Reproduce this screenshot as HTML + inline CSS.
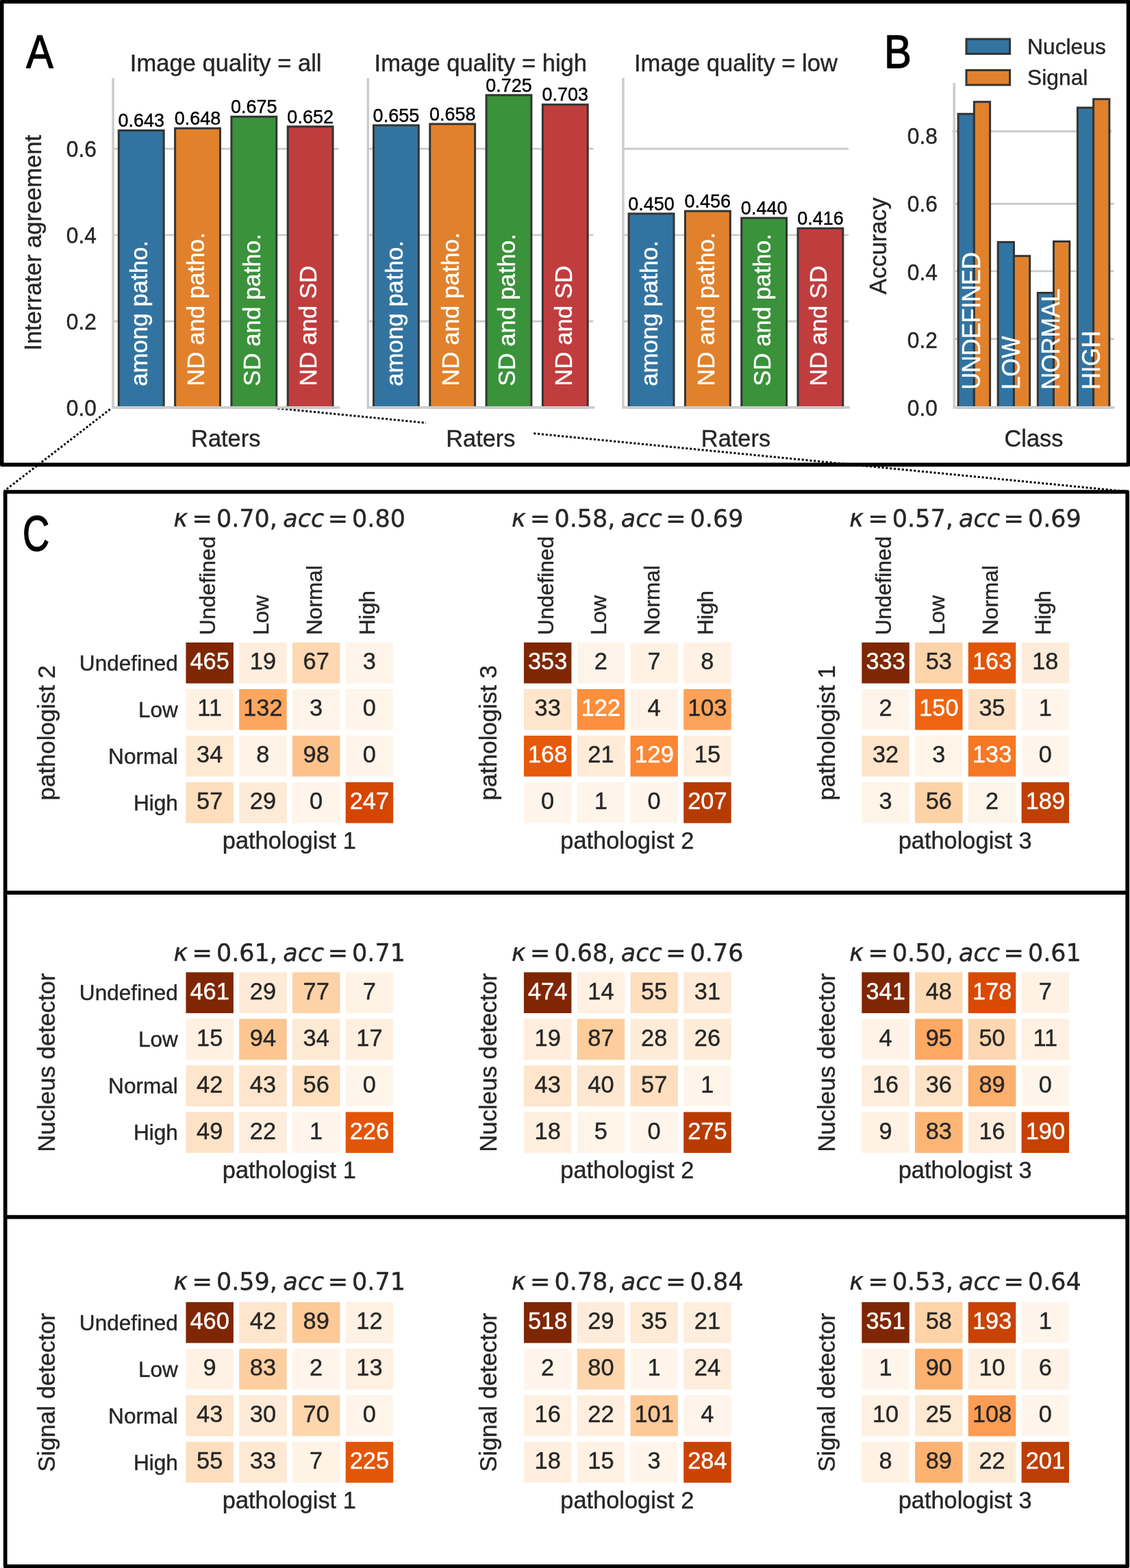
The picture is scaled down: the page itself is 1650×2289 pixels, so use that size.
<!DOCTYPE html>
<html lang="en">
<head>
<meta charset="utf-8">
<title>Interrater agreement figure</title>
<style>
html,body{margin:0;padding:0;background:#fff;}
body{width:1650px;height:2289px;overflow:hidden;}
svg{display:block;}
text{white-space:pre;}
</style>
</head>
<body>
<svg width="1650" height="2289" viewBox="0 0 1650 2289" font-family="'Liberation Sans', sans-serif" role="img" aria-label="Interrater agreement, class accuracy and confusion matrices">
<rect width="1650" height="2289" fill="#fff"/>
<g fill="none" stroke="#000" stroke-width="3" stroke-dasharray="3 2.87">
<path d="M160.8 597.4L6.5 716.5"/>
<path d="M405.4 596.1L1646.1 717.6"/>
</g>
<rect x="622" y="606" width="157" height="62" fill="#fff"/>
<line x1="165.1" x2="494.3" y1="468.97" y2="468.97" stroke="#cccccc" stroke-width="2.9"/>
<line x1="165.1" x2="494.3" y1="343.09" y2="343.09" stroke="#cccccc" stroke-width="2.9"/>
<line x1="165.1" x2="494.3" y1="217.21" y2="217.21" stroke="#cccccc" stroke-width="2.9"/>
<rect x="173.33" y="190.45" width="65.84" height="404.4" fill="#3274a1" stroke="#343434" stroke-width="3.0"/>
<text transform="translate(206.25 185.25) scale(1 1.035)" font-size="27" text-anchor="middle" fill="#000" stroke="#000" stroke-width="0.4">0.643</text>
<text transform="translate(215.45 563.8) rotate(-90)" font-size="34.8" text-anchor="start" fill="#fff" stroke="#fff" stroke-width="0.4">among patho.</text>
<rect x="255.63" y="187.3" width="65.84" height="407.55" fill="#e1812c" stroke="#343434" stroke-width="3.0"/>
<text transform="translate(288.55 182.1) scale(1 1.035)" font-size="27" text-anchor="middle" fill="#000" stroke="#000" stroke-width="0.4">0.648</text>
<text transform="translate(297.75 563.8) rotate(-90)" font-size="34.8" text-anchor="start" fill="#fff" stroke="#fff" stroke-width="0.4">ND and patho.</text>
<rect x="337.93" y="170.31" width="65.84" height="424.55" fill="#3a923a" stroke="#343434" stroke-width="3.0"/>
<text transform="translate(370.85 165.11) scale(1 1.035)" font-size="27" text-anchor="middle" fill="#000" stroke="#000" stroke-width="0.4">0.675</text>
<text transform="translate(380.05 563.8) rotate(-90)" font-size="34.8" text-anchor="start" fill="#fff" stroke="#fff" stroke-width="0.4">SD and patho.</text>
<rect x="420.23" y="184.78" width="65.84" height="410.07" fill="#c03d3e" stroke="#343434" stroke-width="3.0"/>
<text transform="translate(453.15 179.58) scale(1 1.035)" font-size="27" text-anchor="middle" fill="#000" stroke="#000" stroke-width="0.4">0.652</text>
<text transform="translate(462.35 563.8) rotate(-90)" font-size="34.8" text-anchor="start" fill="#fff" stroke="#fff" stroke-width="0.4">ND and SD</text>
<path d="M165.1 113.8V594.85H496.1" fill="none" stroke="#cccccc" stroke-width="3.6" stroke-linejoin="miter"/>
<text x="329.7" y="104.3" font-size="34.6" text-anchor="middle" fill="#262626" stroke="#262626" stroke-width="0.4">Image quality = all</text>
<text x="329.7" y="652" font-size="34.4" text-anchor="middle" fill="#262626" stroke="#262626" stroke-width="0.4">Raters</text>
<text transform="translate(140.9 606.75) scale(1 1.035)" font-size="31.8" text-anchor="end" fill="#262626" stroke="#262626" stroke-width="0.4">0.0</text>
<text transform="translate(140.9 480.87) scale(1 1.035)" font-size="31.8" text-anchor="end" fill="#262626" stroke="#262626" stroke-width="0.4">0.2</text>
<text transform="translate(140.9 354.99) scale(1 1.035)" font-size="31.8" text-anchor="end" fill="#262626" stroke="#262626" stroke-width="0.4">0.4</text>
<text transform="translate(140.9 229.11) scale(1 1.035)" font-size="31.8" text-anchor="end" fill="#262626" stroke="#262626" stroke-width="0.4">0.6</text>
<line x1="537.25" x2="866.45" y1="468.97" y2="468.97" stroke="#cccccc" stroke-width="2.9"/>
<line x1="537.25" x2="866.45" y1="343.09" y2="343.09" stroke="#cccccc" stroke-width="2.9"/>
<line x1="537.25" x2="866.45" y1="217.21" y2="217.21" stroke="#cccccc" stroke-width="2.9"/>
<rect x="545.48" y="182.89" width="65.84" height="411.96" fill="#3274a1" stroke="#343434" stroke-width="3.0"/>
<text transform="translate(578.4 177.69) scale(1 1.035)" font-size="27" text-anchor="middle" fill="#000" stroke="#000" stroke-width="0.4">0.655</text>
<text transform="translate(587.6 563.8) rotate(-90)" font-size="34.8" text-anchor="start" fill="#fff" stroke="#fff" stroke-width="0.4">among patho.</text>
<rect x="627.78" y="181" width="65.84" height="413.85" fill="#e1812c" stroke="#343434" stroke-width="3.0"/>
<text transform="translate(660.7 175.8) scale(1 1.035)" font-size="27" text-anchor="middle" fill="#000" stroke="#000" stroke-width="0.4">0.658</text>
<text transform="translate(669.9 563.8) rotate(-90)" font-size="34.8" text-anchor="start" fill="#fff" stroke="#fff" stroke-width="0.4">ND and patho.</text>
<rect x="710.08" y="138.84" width="65.84" height="456.01" fill="#3a923a" stroke="#343434" stroke-width="3.0"/>
<text transform="translate(743 133.64) scale(1 1.035)" font-size="27" text-anchor="middle" fill="#000" stroke="#000" stroke-width="0.4">0.725</text>
<text transform="translate(752.2 563.8) rotate(-90)" font-size="34.8" text-anchor="start" fill="#fff" stroke="#fff" stroke-width="0.4">SD and patho.</text>
<rect x="792.38" y="152.68" width="65.84" height="442.17" fill="#c03d3e" stroke="#343434" stroke-width="3.0"/>
<text transform="translate(825.3 147.48) scale(1 1.035)" font-size="27" text-anchor="middle" fill="#000" stroke="#000" stroke-width="0.4">0.703</text>
<text transform="translate(834.5 563.8) rotate(-90)" font-size="34.8" text-anchor="start" fill="#fff" stroke="#fff" stroke-width="0.4">ND and SD</text>
<path d="M537.25 113.8V594.85H868.25" fill="none" stroke="#cccccc" stroke-width="3.6" stroke-linejoin="miter"/>
<text x="701.85" y="104.3" font-size="34.6" text-anchor="middle" fill="#262626" stroke="#262626" stroke-width="0.4">Image quality = high</text>
<text x="701.85" y="652" font-size="34.4" text-anchor="middle" fill="#262626" stroke="#262626" stroke-width="0.4">Raters</text>
<line x1="909.9" x2="1239.1" y1="468.97" y2="468.97" stroke="#cccccc" stroke-width="2.9"/>
<line x1="909.9" x2="1239.1" y1="343.09" y2="343.09" stroke="#cccccc" stroke-width="2.9"/>
<line x1="909.9" x2="1239.1" y1="217.21" y2="217.21" stroke="#cccccc" stroke-width="2.9"/>
<rect x="918.13" y="311.92" width="65.84" height="282.93" fill="#3274a1" stroke="#343434" stroke-width="3.0"/>
<text transform="translate(951.05 306.72) scale(1 1.035)" font-size="27" text-anchor="middle" fill="#000" stroke="#000" stroke-width="0.4">0.450</text>
<text transform="translate(960.25 563.8) rotate(-90)" font-size="34.8" text-anchor="start" fill="#fff" stroke="#fff" stroke-width="0.4">among patho.</text>
<rect x="1000.43" y="308.14" width="65.84" height="286.71" fill="#e1812c" stroke="#343434" stroke-width="3.0"/>
<text transform="translate(1033.35 302.94) scale(1 1.035)" font-size="27" text-anchor="middle" fill="#000" stroke="#000" stroke-width="0.4">0.456</text>
<text transform="translate(1042.55 563.8) rotate(-90)" font-size="34.8" text-anchor="start" fill="#fff" stroke="#fff" stroke-width="0.4">ND and patho.</text>
<rect x="1082.73" y="318.21" width="65.84" height="276.64" fill="#3a923a" stroke="#343434" stroke-width="3.0"/>
<text transform="translate(1115.65 313.01) scale(1 1.035)" font-size="27" text-anchor="middle" fill="#000" stroke="#000" stroke-width="0.4">0.440</text>
<text transform="translate(1124.85 563.8) rotate(-90)" font-size="34.8" text-anchor="start" fill="#fff" stroke="#fff" stroke-width="0.4">SD and patho.</text>
<rect x="1165.03" y="333.32" width="65.84" height="261.53" fill="#c03d3e" stroke="#343434" stroke-width="3.0"/>
<text transform="translate(1197.95 328.12) scale(1 1.035)" font-size="27" text-anchor="middle" fill="#000" stroke="#000" stroke-width="0.4">0.416</text>
<text transform="translate(1207.15 563.8) rotate(-90)" font-size="34.8" text-anchor="start" fill="#fff" stroke="#fff" stroke-width="0.4">ND and SD</text>
<path d="M909.9 113.8V594.85H1240.9" fill="none" stroke="#cccccc" stroke-width="3.6" stroke-linejoin="miter"/>
<text x="1074.5" y="104.3" font-size="34.6" text-anchor="middle" fill="#262626" stroke="#262626" stroke-width="0.4">Image quality = low</text>
<text x="1074.5" y="652" font-size="34.4" text-anchor="middle" fill="#262626" stroke="#262626" stroke-width="0.4">Raters</text>
<text transform="translate(60 354.32) rotate(-90)" font-size="34.55" text-anchor="middle" fill="#262626" stroke="#262626" stroke-width="0.4">Interrater agreement</text>
<line x1="1393.3" x2="1626.5" y1="494.7" y2="494.7" stroke="#cccccc" stroke-width="2.9"/>
<line x1="1393.3" x2="1626.5" y1="395.9" y2="395.9" stroke="#cccccc" stroke-width="2.9"/>
<line x1="1393.3" x2="1626.5" y1="297.5" y2="297.5" stroke="#cccccc" stroke-width="2.9"/>
<line x1="1390.3" x2="1623.5" y1="191.8" y2="191.8" stroke="#cccccc" stroke-width="2.9"/>
<rect x="1399.11" y="166.3" width="23.24" height="428.55" fill="#3274a1" stroke="#343434" stroke-width="3.0"/>
<rect x="1422.35" y="148.7" width="23.24" height="446.15" fill="#e1812c" stroke="#343434" stroke-width="3.0"/>
<text transform="translate(1431.25 568.8) rotate(-90) scale(1 1.06)" font-size="34.4" text-anchor="start" fill="#fff" stroke="#fff" stroke-width="0.4">UNDEFINED</text>
<rect x="1457.21" y="353.4" width="23.24" height="241.45" fill="#3274a1" stroke="#343434" stroke-width="3.0"/>
<rect x="1480.45" y="373.7" width="23.24" height="221.15" fill="#e1812c" stroke="#343434" stroke-width="3.0"/>
<text transform="translate(1489.35 568.8) rotate(-90) scale(1 1.06)" font-size="34.4" text-anchor="start" fill="#fff" stroke="#fff" stroke-width="0.4">LOW</text>
<rect x="1515.31" y="427.5" width="23.24" height="167.35" fill="#3274a1" stroke="#343434" stroke-width="3.0"/>
<rect x="1538.55" y="352.5" width="23.24" height="242.35" fill="#e1812c" stroke="#343434" stroke-width="3.0"/>
<text transform="translate(1547.45 568.8) rotate(-90) scale(1 1.06)" font-size="34.4" text-anchor="start" fill="#fff" stroke="#fff" stroke-width="0.4">NORMAL</text>
<rect x="1573.41" y="157.2" width="23.24" height="437.65" fill="#3274a1" stroke="#343434" stroke-width="3.0"/>
<rect x="1596.65" y="144.7" width="23.24" height="450.15" fill="#e1812c" stroke="#343434" stroke-width="3.0"/>
<text transform="translate(1605.55 568.8) rotate(-90) scale(1 1.06)" font-size="34.4" text-anchor="start" fill="#fff" stroke="#fff" stroke-width="0.4">HIGH</text>
<path d="M1393.3 121.1V594.85H1627.5" fill="none" stroke="#cccccc" stroke-width="3.6"/>
<text transform="translate(1369 607.05) scale(1 1.035)" font-size="31.8" text-anchor="end" fill="#262626" stroke="#262626" stroke-width="0.4">0.0</text>
<text transform="translate(1369 507.85) scale(1 1.035)" font-size="31.8" text-anchor="end" fill="#262626" stroke="#262626" stroke-width="0.4">0.2</text>
<text transform="translate(1369 408.65) scale(1 1.035)" font-size="31.8" text-anchor="end" fill="#262626" stroke="#262626" stroke-width="0.4">0.4</text>
<text transform="translate(1369 309.45) scale(1 1.035)" font-size="31.8" text-anchor="end" fill="#262626" stroke="#262626" stroke-width="0.4">0.6</text>
<text transform="translate(1369 210.25) scale(1 1.035)" font-size="31.8" text-anchor="end" fill="#262626" stroke="#262626" stroke-width="0.4">0.8</text>
<text transform="translate(1294.2 358.98) rotate(-90)" font-size="34.4" text-anchor="middle" fill="#262626" stroke="#262626" stroke-width="0.4">Accuracy</text>
<text x="1509.5" y="651.8" font-size="34.4" text-anchor="middle" fill="#262626" stroke="#262626" stroke-width="0.4">Class</text>
<rect x="1411" y="57" width="63.6" height="21.6" fill="#3274a1" stroke="#343434" stroke-width="3.0"/>
<text x="1500" y="79" font-size="31.8" text-anchor="start" fill="#262626" stroke="#262626" stroke-width="0.4">Nucleus</text>
<rect x="1411" y="102.4" width="63.6" height="21.6" fill="#e1812c" stroke="#343434" stroke-width="3.0"/>
<text x="1500" y="124.4" font-size="31.8" text-anchor="start" fill="#262626" stroke="#262626" stroke-width="0.4">Signal</text>
<rect x="271.45" y="937.9" width="69.45" height="59.7" fill="#7f2704"/>
<text transform="translate(306.18 977.05) scale(1 1.035)" font-size="34.4" text-anchor="middle" fill="#fff" stroke="#fff" stroke-width="0.4">465</text>
<rect x="349.2" y="937.9" width="69.45" height="59.7" fill="#ffeede"/>
<text transform="translate(383.93 977.05) scale(1 1.035)" font-size="34.4" text-anchor="middle" fill="#262626" stroke="#262626" stroke-width="0.4">19</text>
<rect x="426.95" y="937.9" width="69.45" height="59.7" fill="#fdd8b2"/>
<text transform="translate(461.68 977.05) scale(1 1.035)" font-size="34.4" text-anchor="middle" fill="#262626" stroke="#262626" stroke-width="0.4">67</text>
<rect x="504.7" y="937.9" width="69.45" height="59.7" fill="#fff4e9"/>
<text transform="translate(539.42 977.05) scale(1 1.035)" font-size="34.4" text-anchor="middle" fill="#262626" stroke="#262626" stroke-width="0.4">3</text>
<rect x="271.45" y="1005.9" width="69.45" height="59.7" fill="#fff1e4"/>
<text transform="translate(306.18 1045.05) scale(1 1.035)" font-size="34.4" text-anchor="middle" fill="#262626" stroke="#262626" stroke-width="0.4">11</text>
<rect x="349.2" y="1005.9" width="69.45" height="59.7" fill="#fda660"/>
<text transform="translate(383.93 1045.05) scale(1 1.035)" font-size="34.4" text-anchor="middle" fill="#262626" stroke="#262626" stroke-width="0.4">132</text>
<rect x="426.95" y="1005.9" width="69.45" height="59.7" fill="#fff4e9"/>
<text transform="translate(461.68 1045.05) scale(1 1.035)" font-size="34.4" text-anchor="middle" fill="#262626" stroke="#262626" stroke-width="0.4">3</text>
<rect x="504.7" y="1005.9" width="69.45" height="59.7" fill="#fff5eb"/>
<text transform="translate(539.42 1045.05) scale(1 1.035)" font-size="34.4" text-anchor="middle" fill="#262626" stroke="#262626" stroke-width="0.4">0</text>
<rect x="271.45" y="1073.9" width="69.45" height="59.7" fill="#fee9d3"/>
<text transform="translate(306.18 1113.05) scale(1 1.035)" font-size="34.4" text-anchor="middle" fill="#262626" stroke="#262626" stroke-width="0.4">34</text>
<rect x="349.2" y="1073.9" width="69.45" height="59.7" fill="#fff2e6"/>
<text transform="translate(383.93 1113.05) scale(1 1.035)" font-size="34.4" text-anchor="middle" fill="#262626" stroke="#262626" stroke-width="0.4">8</text>
<rect x="426.95" y="1073.9" width="69.45" height="59.7" fill="#fdc28b"/>
<text transform="translate(461.68 1113.05) scale(1 1.035)" font-size="34.4" text-anchor="middle" fill="#262626" stroke="#262626" stroke-width="0.4">98</text>
<rect x="504.7" y="1073.9" width="69.45" height="59.7" fill="#fff5eb"/>
<text transform="translate(539.42 1113.05) scale(1 1.035)" font-size="34.4" text-anchor="middle" fill="#262626" stroke="#262626" stroke-width="0.4">0</text>
<rect x="271.45" y="1141.9" width="69.45" height="59.7" fill="#fedebd"/>
<text transform="translate(306.18 1181.05) scale(1 1.035)" font-size="34.4" text-anchor="middle" fill="#262626" stroke="#262626" stroke-width="0.4">57</text>
<rect x="349.2" y="1141.9" width="69.45" height="59.7" fill="#feebd7"/>
<text transform="translate(383.93 1181.05) scale(1 1.035)" font-size="34.4" text-anchor="middle" fill="#262626" stroke="#262626" stroke-width="0.4">29</text>
<rect x="426.95" y="1141.9" width="69.45" height="59.7" fill="#fff5eb"/>
<text transform="translate(461.68 1181.05) scale(1 1.035)" font-size="34.4" text-anchor="middle" fill="#262626" stroke="#262626" stroke-width="0.4">0</text>
<rect x="504.7" y="1141.9" width="69.45" height="59.7" fill="#d54601"/>
<text transform="translate(539.42 1181.05) scale(1 1.035)" font-size="34.4" text-anchor="middle" fill="#fff" stroke="#fff" stroke-width="0.4">247</text>
<text y="769.2" font-size="35" font-family="'DejaVu Sans', 'Liberation Sans', sans-serif" fill="#262626" stroke="#262626" stroke-width="0.4"><tspan x="253.4" font-style="italic">κ</tspan><tspan x="280.6">=</tspan><tspan x="315.9">0.70,</tspan><tspan x="413.2" font-style="italic">acc</tspan><tspan x="478.7">=</tspan><tspan x="514">0.80</tspan></text>
<text x="422.3" y="1238.75" font-size="34.4" text-anchor="middle" fill="#262626" stroke="#262626" stroke-width="0.4">pathologist 1</text>
<text x="259.9" y="978.65" font-size="31.6" text-anchor="end" fill="#262626" stroke="#262626" stroke-width="0.4">Undefined</text>
<text x="259.9" y="1046.65" font-size="31.6" text-anchor="end" fill="#262626" stroke="#262626" stroke-width="0.4">Low</text>
<text x="259.9" y="1114.65" font-size="31.6" text-anchor="end" fill="#262626" stroke="#262626" stroke-width="0.4">Normal</text>
<text x="259.9" y="1182.65" font-size="31.6" text-anchor="end" fill="#262626" stroke="#262626" stroke-width="0.4">High</text>
<text transform="translate(79.8 1069.75) rotate(-90)" font-size="34.8" text-anchor="middle" fill="#262626" stroke="#262626" stroke-width="0.4">pathologist 2</text>
<text transform="translate(314.18 927.05) rotate(-90)" font-size="31.6" text-anchor="start" fill="#262626" stroke="#262626" stroke-width="0.4">Undefined</text>
<text transform="translate(391.93 927.05) rotate(-90)" font-size="31.6" text-anchor="start" fill="#262626" stroke="#262626" stroke-width="0.4">Low</text>
<text transform="translate(469.68 927.05) rotate(-90)" font-size="31.6" text-anchor="start" fill="#262626" stroke="#262626" stroke-width="0.4">Normal</text>
<text transform="translate(547.42 927.05) rotate(-90)" font-size="31.6" text-anchor="start" fill="#262626" stroke="#262626" stroke-width="0.4">High</text>
<rect x="764.95" y="937.9" width="69.45" height="59.7" fill="#7f2704"/>
<text transform="translate(799.67 977.05) scale(1 1.035)" font-size="34.4" text-anchor="middle" fill="#fff" stroke="#fff" stroke-width="0.4">353</text>
<rect x="842.7" y="937.9" width="69.45" height="59.7" fill="#fff4e9"/>
<text transform="translate(877.42 977.05) scale(1 1.035)" font-size="34.4" text-anchor="middle" fill="#262626" stroke="#262626" stroke-width="0.4">2</text>
<rect x="920.45" y="937.9" width="69.45" height="59.7" fill="#fff2e5"/>
<text transform="translate(955.17 977.05) scale(1 1.035)" font-size="34.4" text-anchor="middle" fill="#262626" stroke="#262626" stroke-width="0.4">7</text>
<rect x="998.2" y="937.9" width="69.45" height="59.7" fill="#fff1e4"/>
<text transform="translate(1032.92 977.05) scale(1 1.035)" font-size="34.4" text-anchor="middle" fill="#262626" stroke="#262626" stroke-width="0.4">8</text>
<rect x="764.95" y="1005.9" width="69.45" height="59.7" fill="#fee5cb"/>
<text transform="translate(799.67 1045.05) scale(1 1.035)" font-size="34.4" text-anchor="middle" fill="#262626" stroke="#262626" stroke-width="0.4">33</text>
<rect x="842.7" y="1005.9" width="69.45" height="59.7" fill="#fd8f3e"/>
<text transform="translate(877.42 1045.05) scale(1 1.035)" font-size="34.4" text-anchor="middle" fill="#fff" stroke="#fff" stroke-width="0.4">122</text>
<rect x="920.45" y="1005.9" width="69.45" height="59.7" fill="#fff3e7"/>
<text transform="translate(955.17 1045.05) scale(1 1.035)" font-size="34.4" text-anchor="middle" fill="#262626" stroke="#262626" stroke-width="0.4">4</text>
<rect x="998.2" y="1005.9" width="69.45" height="59.7" fill="#fda35c"/>
<text transform="translate(1032.92 1045.05) scale(1 1.035)" font-size="34.4" text-anchor="middle" fill="#262626" stroke="#262626" stroke-width="0.4">103</text>
<rect x="764.95" y="1073.9" width="69.45" height="59.7" fill="#e65a0b"/>
<text transform="translate(799.67 1113.05) scale(1 1.035)" font-size="34.4" text-anchor="middle" fill="#fff" stroke="#fff" stroke-width="0.4">168</text>
<rect x="842.7" y="1073.9" width="69.45" height="59.7" fill="#feebd8"/>
<text transform="translate(877.42 1113.05) scale(1 1.035)" font-size="34.4" text-anchor="middle" fill="#262626" stroke="#262626" stroke-width="0.4">21</text>
<rect x="920.45" y="1073.9" width="69.45" height="59.7" fill="#fb8735"/>
<text transform="translate(955.17 1113.05) scale(1 1.035)" font-size="34.4" text-anchor="middle" fill="#fff" stroke="#fff" stroke-width="0.4">129</text>
<rect x="998.2" y="1073.9" width="69.45" height="59.7" fill="#ffeedd"/>
<text transform="translate(1032.92 1113.05) scale(1 1.035)" font-size="34.4" text-anchor="middle" fill="#262626" stroke="#262626" stroke-width="0.4">15</text>
<rect x="764.95" y="1141.9" width="69.45" height="59.7" fill="#fff5eb"/>
<text transform="translate(799.67 1181.05) scale(1 1.035)" font-size="34.4" text-anchor="middle" fill="#262626" stroke="#262626" stroke-width="0.4">0</text>
<rect x="842.7" y="1141.9" width="69.45" height="59.7" fill="#fff5ea"/>
<text transform="translate(877.42 1181.05) scale(1 1.035)" font-size="34.4" text-anchor="middle" fill="#262626" stroke="#262626" stroke-width="0.4">1</text>
<rect x="920.45" y="1141.9" width="69.45" height="59.7" fill="#fff5eb"/>
<text transform="translate(955.17 1181.05) scale(1 1.035)" font-size="34.4" text-anchor="middle" fill="#262626" stroke="#262626" stroke-width="0.4">0</text>
<rect x="998.2" y="1141.9" width="69.45" height="59.7" fill="#b53b02"/>
<text transform="translate(1032.92 1181.05) scale(1 1.035)" font-size="34.4" text-anchor="middle" fill="#fff" stroke="#fff" stroke-width="0.4">207</text>
<text y="769.2" font-size="35" font-family="'DejaVu Sans', 'Liberation Sans', sans-serif" fill="#262626" stroke="#262626" stroke-width="0.4"><tspan x="746.9" font-style="italic">κ</tspan><tspan x="774.1">=</tspan><tspan x="809.4">0.58,</tspan><tspan x="906.7" font-style="italic">acc</tspan><tspan x="972.2">=</tspan><tspan x="1007.5">0.69</tspan></text>
<text x="915.8" y="1238.75" font-size="34.4" text-anchor="middle" fill="#262626" stroke="#262626" stroke-width="0.4">pathologist 2</text>
<text transform="translate(725.4 1069.75) rotate(-90)" font-size="34.8" text-anchor="middle" fill="#262626" stroke="#262626" stroke-width="0.4">pathologist 3</text>
<text transform="translate(807.67 927.05) rotate(-90)" font-size="31.6" text-anchor="start" fill="#262626" stroke="#262626" stroke-width="0.4">Undefined</text>
<text transform="translate(885.42 927.05) rotate(-90)" font-size="31.6" text-anchor="start" fill="#262626" stroke="#262626" stroke-width="0.4">Low</text>
<text transform="translate(963.17 927.05) rotate(-90)" font-size="31.6" text-anchor="start" fill="#262626" stroke="#262626" stroke-width="0.4">Normal</text>
<text transform="translate(1040.92 927.05) rotate(-90)" font-size="31.6" text-anchor="start" fill="#262626" stroke="#262626" stroke-width="0.4">High</text>
<rect x="1258.35" y="937.9" width="69.45" height="59.7" fill="#7f2704"/>
<text transform="translate(1293.08 977.05) scale(1 1.035)" font-size="34.4" text-anchor="middle" fill="#fff" stroke="#fff" stroke-width="0.4">333</text>
<rect x="1336.1" y="937.9" width="69.45" height="59.7" fill="#fdd4aa"/>
<text transform="translate(1370.83 977.05) scale(1 1.035)" font-size="34.4" text-anchor="middle" fill="#262626" stroke="#262626" stroke-width="0.4">53</text>
<rect x="1413.85" y="937.9" width="69.45" height="59.7" fill="#e25508"/>
<text transform="translate(1448.58 977.05) scale(1 1.035)" font-size="34.4" text-anchor="middle" fill="#fff" stroke="#fff" stroke-width="0.4">163</text>
<rect x="1491.6" y="937.9" width="69.45" height="59.7" fill="#feecda"/>
<text transform="translate(1526.33 977.05) scale(1 1.035)" font-size="34.4" text-anchor="middle" fill="#262626" stroke="#262626" stroke-width="0.4">18</text>
<rect x="1258.35" y="1005.9" width="69.45" height="59.7" fill="#fff4e9"/>
<text transform="translate(1293.08 1045.05) scale(1 1.035)" font-size="34.4" text-anchor="middle" fill="#262626" stroke="#262626" stroke-width="0.4">2</text>
<rect x="1336.1" y="1005.9" width="69.45" height="59.7" fill="#ee6410"/>
<text transform="translate(1370.83 1045.05) scale(1 1.035)" font-size="34.4" text-anchor="middle" fill="#fff" stroke="#fff" stroke-width="0.4">150</text>
<rect x="1413.85" y="1005.9" width="69.45" height="59.7" fill="#fee2c6"/>
<text transform="translate(1448.58 1045.05) scale(1 1.035)" font-size="34.4" text-anchor="middle" fill="#262626" stroke="#262626" stroke-width="0.4">35</text>
<rect x="1491.6" y="1005.9" width="69.45" height="59.7" fill="#fff5ea"/>
<text transform="translate(1526.33 1045.05) scale(1 1.035)" font-size="34.4" text-anchor="middle" fill="#262626" stroke="#262626" stroke-width="0.4">1</text>
<rect x="1258.35" y="1073.9" width="69.45" height="59.7" fill="#fee4ca"/>
<text transform="translate(1293.08 1113.05) scale(1 1.035)" font-size="34.4" text-anchor="middle" fill="#262626" stroke="#262626" stroke-width="0.4">32</text>
<rect x="1336.1" y="1073.9" width="69.45" height="59.7" fill="#fff4e8"/>
<text transform="translate(1370.83 1113.05) scale(1 1.035)" font-size="34.4" text-anchor="middle" fill="#262626" stroke="#262626" stroke-width="0.4">3</text>
<rect x="1413.85" y="1073.9" width="69.45" height="59.7" fill="#f67824"/>
<text transform="translate(1448.58 1113.05) scale(1 1.035)" font-size="34.4" text-anchor="middle" fill="#fff" stroke="#fff" stroke-width="0.4">133</text>
<rect x="1491.6" y="1073.9" width="69.45" height="59.7" fill="#fff5eb"/>
<text transform="translate(1526.33 1113.05) scale(1 1.035)" font-size="34.4" text-anchor="middle" fill="#262626" stroke="#262626" stroke-width="0.4">0</text>
<rect x="1258.35" y="1141.9" width="69.45" height="59.7" fill="#fff4e8"/>
<text transform="translate(1293.08 1181.05) scale(1 1.035)" font-size="34.4" text-anchor="middle" fill="#262626" stroke="#262626" stroke-width="0.4">3</text>
<rect x="1336.1" y="1141.9" width="69.45" height="59.7" fill="#fdd2a6"/>
<text transform="translate(1370.83 1181.05) scale(1 1.035)" font-size="34.4" text-anchor="middle" fill="#262626" stroke="#262626" stroke-width="0.4">56</text>
<rect x="1413.85" y="1141.9" width="69.45" height="59.7" fill="#fff4e9"/>
<text transform="translate(1448.58 1181.05) scale(1 1.035)" font-size="34.4" text-anchor="middle" fill="#262626" stroke="#262626" stroke-width="0.4">2</text>
<rect x="1491.6" y="1141.9" width="69.45" height="59.7" fill="#c03f02"/>
<text transform="translate(1526.33 1181.05) scale(1 1.035)" font-size="34.4" text-anchor="middle" fill="#fff" stroke="#fff" stroke-width="0.4">189</text>
<text y="769.2" font-size="35" font-family="'DejaVu Sans', 'Liberation Sans', sans-serif" fill="#262626" stroke="#262626" stroke-width="0.4"><tspan x="1240.3" font-style="italic">κ</tspan><tspan x="1267.5">=</tspan><tspan x="1302.8">0.57,</tspan><tspan x="1400.1" font-style="italic">acc</tspan><tspan x="1465.6">=</tspan><tspan x="1500.9">0.69</tspan></text>
<text x="1409.2" y="1238.75" font-size="34.4" text-anchor="middle" fill="#262626" stroke="#262626" stroke-width="0.4">pathologist 3</text>
<text transform="translate(1218.8 1069.75) rotate(-90)" font-size="34.8" text-anchor="middle" fill="#262626" stroke="#262626" stroke-width="0.4">pathologist 1</text>
<text transform="translate(1301.08 927.05) rotate(-90)" font-size="31.6" text-anchor="start" fill="#262626" stroke="#262626" stroke-width="0.4">Undefined</text>
<text transform="translate(1378.83 927.05) rotate(-90)" font-size="31.6" text-anchor="start" fill="#262626" stroke="#262626" stroke-width="0.4">Low</text>
<text transform="translate(1456.58 927.05) rotate(-90)" font-size="31.6" text-anchor="start" fill="#262626" stroke="#262626" stroke-width="0.4">Normal</text>
<text transform="translate(1534.33 927.05) rotate(-90)" font-size="31.6" text-anchor="start" fill="#262626" stroke="#262626" stroke-width="0.4">High</text>
<rect x="271.45" y="1419.35" width="69.45" height="59.7" fill="#7f2704"/>
<text transform="translate(306.18 1458.5) scale(1 1.035)" font-size="34.4" text-anchor="middle" fill="#fff" stroke="#fff" stroke-width="0.4">461</text>
<rect x="349.2" y="1419.35" width="69.45" height="59.7" fill="#feead6"/>
<text transform="translate(383.93 1458.5) scale(1 1.035)" font-size="34.4" text-anchor="middle" fill="#262626" stroke="#262626" stroke-width="0.4">29</text>
<rect x="426.95" y="1419.35" width="69.45" height="59.7" fill="#fdd2a6"/>
<text transform="translate(461.68 1458.5) scale(1 1.035)" font-size="34.4" text-anchor="middle" fill="#262626" stroke="#262626" stroke-width="0.4">77</text>
<rect x="504.7" y="1419.35" width="69.45" height="59.7" fill="#fff3e6"/>
<text transform="translate(539.42 1458.5) scale(1 1.035)" font-size="34.4" text-anchor="middle" fill="#262626" stroke="#262626" stroke-width="0.4">7</text>
<rect x="271.45" y="1487.35" width="69.45" height="59.7" fill="#fff0e1"/>
<text transform="translate(306.18 1526.5) scale(1 1.035)" font-size="34.4" text-anchor="middle" fill="#262626" stroke="#262626" stroke-width="0.4">15</text>
<rect x="349.2" y="1487.35" width="69.45" height="59.7" fill="#fdc590"/>
<text transform="translate(383.93 1526.5) scale(1 1.035)" font-size="34.4" text-anchor="middle" fill="#262626" stroke="#262626" stroke-width="0.4">94</text>
<rect x="426.95" y="1487.35" width="69.45" height="59.7" fill="#fee9d3"/>
<text transform="translate(461.68 1526.5) scale(1 1.035)" font-size="34.4" text-anchor="middle" fill="#262626" stroke="#262626" stroke-width="0.4">34</text>
<rect x="504.7" y="1487.35" width="69.45" height="59.7" fill="#ffefdf"/>
<text transform="translate(539.42 1526.5) scale(1 1.035)" font-size="34.4" text-anchor="middle" fill="#262626" stroke="#262626" stroke-width="0.4">17</text>
<rect x="271.45" y="1555.35" width="69.45" height="59.7" fill="#fee5cc"/>
<text transform="translate(306.18 1594.5) scale(1 1.035)" font-size="34.4" text-anchor="middle" fill="#262626" stroke="#262626" stroke-width="0.4">42</text>
<rect x="349.2" y="1555.35" width="69.45" height="59.7" fill="#fee5cb"/>
<text transform="translate(383.93 1594.5) scale(1 1.035)" font-size="34.4" text-anchor="middle" fill="#262626" stroke="#262626" stroke-width="0.4">43</text>
<rect x="426.95" y="1555.35" width="69.45" height="59.7" fill="#fedebd"/>
<text transform="translate(461.68 1594.5) scale(1 1.035)" font-size="34.4" text-anchor="middle" fill="#262626" stroke="#262626" stroke-width="0.4">56</text>
<rect x="504.7" y="1555.35" width="69.45" height="59.7" fill="#fff5eb"/>
<text transform="translate(539.42 1594.5) scale(1 1.035)" font-size="34.4" text-anchor="middle" fill="#262626" stroke="#262626" stroke-width="0.4">0</text>
<rect x="271.45" y="1623.35" width="69.45" height="59.7" fill="#fee2c6"/>
<text transform="translate(306.18 1662.5) scale(1 1.035)" font-size="34.4" text-anchor="middle" fill="#262626" stroke="#262626" stroke-width="0.4">49</text>
<rect x="349.2" y="1623.35" width="69.45" height="59.7" fill="#feeddc"/>
<text transform="translate(383.93 1662.5) scale(1 1.035)" font-size="34.4" text-anchor="middle" fill="#262626" stroke="#262626" stroke-width="0.4">22</text>
<rect x="426.95" y="1623.35" width="69.45" height="59.7" fill="#fff5eb"/>
<text transform="translate(461.68 1662.5) scale(1 1.035)" font-size="34.4" text-anchor="middle" fill="#262626" stroke="#262626" stroke-width="0.4">1</text>
<rect x="504.7" y="1623.35" width="69.45" height="59.7" fill="#e25508"/>
<text transform="translate(539.42 1662.5) scale(1 1.035)" font-size="34.4" text-anchor="middle" fill="#fff" stroke="#fff" stroke-width="0.4">226</text>
<text y="1402.6" font-size="35" font-family="'DejaVu Sans', 'Liberation Sans', sans-serif" fill="#262626" stroke="#262626" stroke-width="0.4"><tspan x="253.4" font-style="italic">κ</tspan><tspan x="280.6">=</tspan><tspan x="315.9">0.61,</tspan><tspan x="413.2" font-style="italic">acc</tspan><tspan x="478.7">=</tspan><tspan x="514">0.71</tspan></text>
<text x="422.3" y="1720.2" font-size="34.4" text-anchor="middle" fill="#262626" stroke="#262626" stroke-width="0.4">pathologist 1</text>
<text x="259.9" y="1460.1" font-size="31.6" text-anchor="end" fill="#262626" stroke="#262626" stroke-width="0.4">Undefined</text>
<text x="259.9" y="1528.1" font-size="31.6" text-anchor="end" fill="#262626" stroke="#262626" stroke-width="0.4">Low</text>
<text x="259.9" y="1596.1" font-size="31.6" text-anchor="end" fill="#262626" stroke="#262626" stroke-width="0.4">Normal</text>
<text x="259.9" y="1664.1" font-size="31.6" text-anchor="end" fill="#262626" stroke="#262626" stroke-width="0.4">High</text>
<text transform="translate(79.8 1551.2) rotate(-90)" font-size="34.8" text-anchor="middle" fill="#262626" stroke="#262626" stroke-width="0.4">Nucleus detector</text>
<rect x="764.95" y="1419.35" width="69.45" height="59.7" fill="#7f2704"/>
<text transform="translate(799.67 1458.5) scale(1 1.035)" font-size="34.4" text-anchor="middle" fill="#fff" stroke="#fff" stroke-width="0.4">474</text>
<rect x="842.7" y="1419.35" width="69.45" height="59.7" fill="#fff0e2"/>
<text transform="translate(877.42 1458.5) scale(1 1.035)" font-size="34.4" text-anchor="middle" fill="#262626" stroke="#262626" stroke-width="0.4">14</text>
<rect x="920.45" y="1419.35" width="69.45" height="59.7" fill="#fedfc0"/>
<text transform="translate(955.17 1458.5) scale(1 1.035)" font-size="34.4" text-anchor="middle" fill="#262626" stroke="#262626" stroke-width="0.4">55</text>
<rect x="998.2" y="1419.35" width="69.45" height="59.7" fill="#feead6"/>
<text transform="translate(1032.92 1458.5) scale(1 1.035)" font-size="34.4" text-anchor="middle" fill="#262626" stroke="#262626" stroke-width="0.4">31</text>
<rect x="764.95" y="1487.35" width="69.45" height="59.7" fill="#ffeede"/>
<text transform="translate(799.67 1526.5) scale(1 1.035)" font-size="34.4" text-anchor="middle" fill="#262626" stroke="#262626" stroke-width="0.4">19</text>
<rect x="842.7" y="1487.35" width="69.45" height="59.7" fill="#fdcd9c"/>
<text transform="translate(877.42 1526.5) scale(1 1.035)" font-size="34.4" text-anchor="middle" fill="#262626" stroke="#262626" stroke-width="0.4">87</text>
<rect x="920.45" y="1487.35" width="69.45" height="59.7" fill="#feebd8"/>
<text transform="translate(955.17 1526.5) scale(1 1.035)" font-size="34.4" text-anchor="middle" fill="#262626" stroke="#262626" stroke-width="0.4">28</text>
<rect x="998.2" y="1487.35" width="69.45" height="59.7" fill="#feecd9"/>
<text transform="translate(1032.92 1526.5) scale(1 1.035)" font-size="34.4" text-anchor="middle" fill="#262626" stroke="#262626" stroke-width="0.4">26</text>
<rect x="764.95" y="1555.35" width="69.45" height="59.7" fill="#fee5cc"/>
<text transform="translate(799.67 1594.5) scale(1 1.035)" font-size="34.4" text-anchor="middle" fill="#262626" stroke="#262626" stroke-width="0.4">43</text>
<rect x="842.7" y="1555.35" width="69.45" height="59.7" fill="#fee7d0"/>
<text transform="translate(877.42 1594.5) scale(1 1.035)" font-size="34.4" text-anchor="middle" fill="#262626" stroke="#262626" stroke-width="0.4">40</text>
<rect x="920.45" y="1555.35" width="69.45" height="59.7" fill="#fedebf"/>
<text transform="translate(955.17 1594.5) scale(1 1.035)" font-size="34.4" text-anchor="middle" fill="#262626" stroke="#262626" stroke-width="0.4">57</text>
<rect x="998.2" y="1555.35" width="69.45" height="59.7" fill="#fff5eb"/>
<text transform="translate(1032.92 1594.5) scale(1 1.035)" font-size="34.4" text-anchor="middle" fill="#262626" stroke="#262626" stroke-width="0.4">1</text>
<rect x="764.95" y="1623.35" width="69.45" height="59.7" fill="#ffefdf"/>
<text transform="translate(799.67 1662.5) scale(1 1.035)" font-size="34.4" text-anchor="middle" fill="#262626" stroke="#262626" stroke-width="0.4">18</text>
<rect x="842.7" y="1623.35" width="69.45" height="59.7" fill="#fff4e8"/>
<text transform="translate(877.42 1662.5) scale(1 1.035)" font-size="34.4" text-anchor="middle" fill="#262626" stroke="#262626" stroke-width="0.4">5</text>
<rect x="920.45" y="1623.35" width="69.45" height="59.7" fill="#fff5eb"/>
<text transform="translate(955.17 1662.5) scale(1 1.035)" font-size="34.4" text-anchor="middle" fill="#262626" stroke="#262626" stroke-width="0.4">0</text>
<rect x="998.2" y="1623.35" width="69.45" height="59.7" fill="#b83c02"/>
<text transform="translate(1032.92 1662.5) scale(1 1.035)" font-size="34.4" text-anchor="middle" fill="#fff" stroke="#fff" stroke-width="0.4">275</text>
<text y="1402.6" font-size="35" font-family="'DejaVu Sans', 'Liberation Sans', sans-serif" fill="#262626" stroke="#262626" stroke-width="0.4"><tspan x="746.9" font-style="italic">κ</tspan><tspan x="774.1">=</tspan><tspan x="809.4">0.68,</tspan><tspan x="906.7" font-style="italic">acc</tspan><tspan x="972.2">=</tspan><tspan x="1007.5">0.76</tspan></text>
<text x="915.8" y="1720.2" font-size="34.4" text-anchor="middle" fill="#262626" stroke="#262626" stroke-width="0.4">pathologist 2</text>
<text transform="translate(725.4 1551.2) rotate(-90)" font-size="34.8" text-anchor="middle" fill="#262626" stroke="#262626" stroke-width="0.4">Nucleus detector</text>
<rect x="1258.35" y="1419.35" width="69.45" height="59.7" fill="#7f2704"/>
<text transform="translate(1293.08 1458.5) scale(1 1.035)" font-size="34.4" text-anchor="middle" fill="#fff" stroke="#fff" stroke-width="0.4">341</text>
<rect x="1336.1" y="1419.35" width="69.45" height="59.7" fill="#fdd9b4"/>
<text transform="translate(1370.83 1458.5) scale(1 1.035)" font-size="34.4" text-anchor="middle" fill="#262626" stroke="#262626" stroke-width="0.4">48</text>
<rect x="1413.85" y="1419.35" width="69.45" height="59.7" fill="#da4902"/>
<text transform="translate(1448.58 1458.5) scale(1 1.035)" font-size="34.4" text-anchor="middle" fill="#fff" stroke="#fff" stroke-width="0.4">178</text>
<rect x="1491.6" y="1419.35" width="69.45" height="59.7" fill="#fff2e5"/>
<text transform="translate(1526.33 1458.5) scale(1 1.035)" font-size="34.4" text-anchor="middle" fill="#262626" stroke="#262626" stroke-width="0.4">7</text>
<rect x="1258.35" y="1487.35" width="69.45" height="59.7" fill="#fff3e7"/>
<text transform="translate(1293.08 1526.5) scale(1 1.035)" font-size="34.4" text-anchor="middle" fill="#262626" stroke="#262626" stroke-width="0.4">4</text>
<rect x="1336.1" y="1487.35" width="69.45" height="59.7" fill="#fda863"/>
<text transform="translate(1370.83 1526.5) scale(1 1.035)" font-size="34.4" text-anchor="middle" fill="#262626" stroke="#262626" stroke-width="0.4">95</text>
<rect x="1413.85" y="1487.35" width="69.45" height="59.7" fill="#fdd7b1"/>
<text transform="translate(1448.58 1526.5) scale(1 1.035)" font-size="34.4" text-anchor="middle" fill="#262626" stroke="#262626" stroke-width="0.4">50</text>
<rect x="1491.6" y="1487.35" width="69.45" height="59.7" fill="#fff0e1"/>
<text transform="translate(1526.33 1526.5) scale(1 1.035)" font-size="34.4" text-anchor="middle" fill="#262626" stroke="#262626" stroke-width="0.4">11</text>
<rect x="1258.35" y="1555.35" width="69.45" height="59.7" fill="#feeddc"/>
<text transform="translate(1293.08 1594.5) scale(1 1.035)" font-size="34.4" text-anchor="middle" fill="#262626" stroke="#262626" stroke-width="0.4">16</text>
<rect x="1336.1" y="1555.35" width="69.45" height="59.7" fill="#fee2c6"/>
<text transform="translate(1370.83 1594.5) scale(1 1.035)" font-size="34.4" text-anchor="middle" fill="#262626" stroke="#262626" stroke-width="0.4">36</text>
<rect x="1413.85" y="1555.35" width="69.45" height="59.7" fill="#fdaf6c"/>
<text transform="translate(1448.58 1594.5) scale(1 1.035)" font-size="34.4" text-anchor="middle" fill="#262626" stroke="#262626" stroke-width="0.4">89</text>
<rect x="1491.6" y="1555.35" width="69.45" height="59.7" fill="#fff5eb"/>
<text transform="translate(1526.33 1594.5) scale(1 1.035)" font-size="34.4" text-anchor="middle" fill="#262626" stroke="#262626" stroke-width="0.4">0</text>
<rect x="1258.35" y="1623.35" width="69.45" height="59.7" fill="#fff1e3"/>
<text transform="translate(1293.08 1662.5) scale(1 1.035)" font-size="34.4" text-anchor="middle" fill="#262626" stroke="#262626" stroke-width="0.4">9</text>
<rect x="1336.1" y="1623.35" width="69.45" height="59.7" fill="#fdb576"/>
<text transform="translate(1370.83 1662.5) scale(1 1.035)" font-size="34.4" text-anchor="middle" fill="#262626" stroke="#262626" stroke-width="0.4">83</text>
<rect x="1413.85" y="1623.35" width="69.45" height="59.7" fill="#feeddc"/>
<text transform="translate(1448.58 1662.5) scale(1 1.035)" font-size="34.4" text-anchor="middle" fill="#262626" stroke="#262626" stroke-width="0.4">16</text>
<rect x="1491.6" y="1623.35" width="69.45" height="59.7" fill="#c64102"/>
<text transform="translate(1526.33 1662.5) scale(1 1.035)" font-size="34.4" text-anchor="middle" fill="#fff" stroke="#fff" stroke-width="0.4">190</text>
<text y="1402.6" font-size="35" font-family="'DejaVu Sans', 'Liberation Sans', sans-serif" fill="#262626" stroke="#262626" stroke-width="0.4"><tspan x="1240.3" font-style="italic">κ</tspan><tspan x="1267.5">=</tspan><tspan x="1302.8">0.50,</tspan><tspan x="1400.1" font-style="italic">acc</tspan><tspan x="1465.6">=</tspan><tspan x="1500.9">0.61</tspan></text>
<text x="1409.2" y="1720.2" font-size="34.4" text-anchor="middle" fill="#262626" stroke="#262626" stroke-width="0.4">pathologist 3</text>
<text transform="translate(1218.8 1551.2) rotate(-90)" font-size="34.8" text-anchor="middle" fill="#262626" stroke="#262626" stroke-width="0.4">Nucleus detector</text>
<rect x="271.45" y="1900.85" width="69.45" height="59.7" fill="#7f2704"/>
<text transform="translate(306.18 1940) scale(1 1.035)" font-size="34.4" text-anchor="middle" fill="#fff" stroke="#fff" stroke-width="0.4">460</text>
<rect x="349.2" y="1900.85" width="69.45" height="59.7" fill="#fee5cc"/>
<text transform="translate(383.93 1940) scale(1 1.035)" font-size="34.4" text-anchor="middle" fill="#262626" stroke="#262626" stroke-width="0.4">42</text>
<rect x="426.95" y="1900.85" width="69.45" height="59.7" fill="#fdc997"/>
<text transform="translate(461.68 1940) scale(1 1.035)" font-size="34.4" text-anchor="middle" fill="#262626" stroke="#262626" stroke-width="0.4">89</text>
<rect x="504.7" y="1900.85" width="69.45" height="59.7" fill="#fff1e3"/>
<text transform="translate(539.42 1940) scale(1 1.035)" font-size="34.4" text-anchor="middle" fill="#262626" stroke="#262626" stroke-width="0.4">12</text>
<rect x="271.45" y="1968.85" width="69.45" height="59.7" fill="#fff2e5"/>
<text transform="translate(306.18 2008) scale(1 1.035)" font-size="34.4" text-anchor="middle" fill="#262626" stroke="#262626" stroke-width="0.4">9</text>
<rect x="349.2" y="1968.85" width="69.45" height="59.7" fill="#fdcfa0"/>
<text transform="translate(383.93 2008) scale(1 1.035)" font-size="34.4" text-anchor="middle" fill="#262626" stroke="#262626" stroke-width="0.4">83</text>
<rect x="426.95" y="1968.85" width="69.45" height="59.7" fill="#fff5ea"/>
<text transform="translate(461.68 2008) scale(1 1.035)" font-size="34.4" text-anchor="middle" fill="#262626" stroke="#262626" stroke-width="0.4">2</text>
<rect x="504.7" y="1968.85" width="69.45" height="59.7" fill="#fff0e2"/>
<text transform="translate(539.42 2008) scale(1 1.035)" font-size="34.4" text-anchor="middle" fill="#262626" stroke="#262626" stroke-width="0.4">13</text>
<rect x="271.45" y="2036.85" width="69.45" height="59.7" fill="#fee5cb"/>
<text transform="translate(306.18 2076) scale(1 1.035)" font-size="34.4" text-anchor="middle" fill="#262626" stroke="#262626" stroke-width="0.4">43</text>
<rect x="349.2" y="2036.85" width="69.45" height="59.7" fill="#feead6"/>
<text transform="translate(383.93 2076) scale(1 1.035)" font-size="34.4" text-anchor="middle" fill="#262626" stroke="#262626" stroke-width="0.4">30</text>
<rect x="426.95" y="2036.85" width="69.45" height="59.7" fill="#fdd6ae"/>
<text transform="translate(461.68 2076) scale(1 1.035)" font-size="34.4" text-anchor="middle" fill="#262626" stroke="#262626" stroke-width="0.4">70</text>
<rect x="504.7" y="2036.85" width="69.45" height="59.7" fill="#fff5eb"/>
<text transform="translate(539.42 2076) scale(1 1.035)" font-size="34.4" text-anchor="middle" fill="#262626" stroke="#262626" stroke-width="0.4">0</text>
<rect x="271.45" y="2104.85" width="69.45" height="59.7" fill="#fedebf"/>
<text transform="translate(306.18 2144) scale(1 1.035)" font-size="34.4" text-anchor="middle" fill="#262626" stroke="#262626" stroke-width="0.4">55</text>
<rect x="349.2" y="2104.85" width="69.45" height="59.7" fill="#fee9d3"/>
<text transform="translate(383.93 2144) scale(1 1.035)" font-size="34.4" text-anchor="middle" fill="#262626" stroke="#262626" stroke-width="0.4">33</text>
<rect x="426.95" y="2104.85" width="69.45" height="59.7" fill="#fff3e6"/>
<text transform="translate(461.68 2144) scale(1 1.035)" font-size="34.4" text-anchor="middle" fill="#262626" stroke="#262626" stroke-width="0.4">7</text>
<rect x="504.7" y="2104.85" width="69.45" height="59.7" fill="#e35608"/>
<text transform="translate(539.42 2144) scale(1 1.035)" font-size="34.4" text-anchor="middle" fill="#fff" stroke="#fff" stroke-width="0.4">225</text>
<text y="1883.4" font-size="35" font-family="'DejaVu Sans', 'Liberation Sans', sans-serif" fill="#262626" stroke="#262626" stroke-width="0.4"><tspan x="253.4" font-style="italic">κ</tspan><tspan x="280.6">=</tspan><tspan x="315.9">0.59,</tspan><tspan x="413.2" font-style="italic">acc</tspan><tspan x="478.7">=</tspan><tspan x="514">0.71</tspan></text>
<text x="422.3" y="2201.7" font-size="34.4" text-anchor="middle" fill="#262626" stroke="#262626" stroke-width="0.4">pathologist 1</text>
<text x="259.9" y="1941.6" font-size="31.6" text-anchor="end" fill="#262626" stroke="#262626" stroke-width="0.4">Undefined</text>
<text x="259.9" y="2009.6" font-size="31.6" text-anchor="end" fill="#262626" stroke="#262626" stroke-width="0.4">Low</text>
<text x="259.9" y="2077.6" font-size="31.6" text-anchor="end" fill="#262626" stroke="#262626" stroke-width="0.4">Normal</text>
<text x="259.9" y="2145.6" font-size="31.6" text-anchor="end" fill="#262626" stroke="#262626" stroke-width="0.4">High</text>
<text transform="translate(79.8 2032.7) rotate(-90)" font-size="34.8" text-anchor="middle" fill="#262626" stroke="#262626" stroke-width="0.4">Signal detector</text>
<rect x="764.95" y="1900.85" width="69.45" height="59.7" fill="#7f2704"/>
<text transform="translate(799.67 1940) scale(1 1.035)" font-size="34.4" text-anchor="middle" fill="#fff" stroke="#fff" stroke-width="0.4">518</text>
<rect x="842.7" y="1900.85" width="69.45" height="59.7" fill="#feecda"/>
<text transform="translate(877.42 1940) scale(1 1.035)" font-size="34.4" text-anchor="middle" fill="#262626" stroke="#262626" stroke-width="0.4">29</text>
<rect x="920.45" y="1900.85" width="69.45" height="59.7" fill="#feead5"/>
<text transform="translate(955.17 1940) scale(1 1.035)" font-size="34.4" text-anchor="middle" fill="#262626" stroke="#262626" stroke-width="0.4">35</text>
<rect x="998.2" y="1900.85" width="69.45" height="59.7" fill="#ffeede"/>
<text transform="translate(1032.92 1940) scale(1 1.035)" font-size="34.4" text-anchor="middle" fill="#262626" stroke="#262626" stroke-width="0.4">21</text>
<rect x="764.95" y="1968.85" width="69.45" height="59.7" fill="#fff5eb"/>
<text transform="translate(799.67 2008) scale(1 1.035)" font-size="34.4" text-anchor="middle" fill="#262626" stroke="#262626" stroke-width="0.4">2</text>
<rect x="842.7" y="1968.85" width="69.45" height="59.7" fill="#fdd6ae"/>
<text transform="translate(877.42 2008) scale(1 1.035)" font-size="34.4" text-anchor="middle" fill="#262626" stroke="#262626" stroke-width="0.4">80</text>
<rect x="920.45" y="1968.85" width="69.45" height="59.7" fill="#fff5eb"/>
<text transform="translate(955.17 2008) scale(1 1.035)" font-size="34.4" text-anchor="middle" fill="#262626" stroke="#262626" stroke-width="0.4">1</text>
<rect x="998.2" y="1968.85" width="69.45" height="59.7" fill="#feeddc"/>
<text transform="translate(1032.92 2008) scale(1 1.035)" font-size="34.4" text-anchor="middle" fill="#262626" stroke="#262626" stroke-width="0.4">24</text>
<rect x="764.95" y="2036.85" width="69.45" height="59.7" fill="#fff0e2"/>
<text transform="translate(799.67 2076) scale(1 1.035)" font-size="34.4" text-anchor="middle" fill="#262626" stroke="#262626" stroke-width="0.4">16</text>
<rect x="842.7" y="2036.85" width="69.45" height="59.7" fill="#ffeede"/>
<text transform="translate(877.42 2076) scale(1 1.035)" font-size="34.4" text-anchor="middle" fill="#262626" stroke="#262626" stroke-width="0.4">22</text>
<rect x="920.45" y="2036.85" width="69.45" height="59.7" fill="#fdc997"/>
<text transform="translate(955.17 2076) scale(1 1.035)" font-size="34.4" text-anchor="middle" fill="#262626" stroke="#262626" stroke-width="0.4">101</text>
<rect x="998.2" y="2036.85" width="69.45" height="59.7" fill="#fff4e9"/>
<text transform="translate(1032.92 2076) scale(1 1.035)" font-size="34.4" text-anchor="middle" fill="#262626" stroke="#262626" stroke-width="0.4">4</text>
<rect x="764.95" y="2104.85" width="69.45" height="59.7" fill="#ffefe0"/>
<text transform="translate(799.67 2144) scale(1 1.035)" font-size="34.4" text-anchor="middle" fill="#262626" stroke="#262626" stroke-width="0.4">18</text>
<rect x="842.7" y="2104.85" width="69.45" height="59.7" fill="#fff1e3"/>
<text transform="translate(877.42 2144) scale(1 1.035)" font-size="34.4" text-anchor="middle" fill="#262626" stroke="#262626" stroke-width="0.4">15</text>
<rect x="920.45" y="2104.85" width="69.45" height="59.7" fill="#fff5ea"/>
<text transform="translate(955.17 2144) scale(1 1.035)" font-size="34.4" text-anchor="middle" fill="#262626" stroke="#262626" stroke-width="0.4">3</text>
<rect x="998.2" y="2104.85" width="69.45" height="59.7" fill="#cb4302"/>
<text transform="translate(1032.92 2144) scale(1 1.035)" font-size="34.4" text-anchor="middle" fill="#fff" stroke="#fff" stroke-width="0.4">284</text>
<text y="1883.4" font-size="35" font-family="'DejaVu Sans', 'Liberation Sans', sans-serif" fill="#262626" stroke="#262626" stroke-width="0.4"><tspan x="746.9" font-style="italic">κ</tspan><tspan x="774.1">=</tspan><tspan x="809.4">0.78,</tspan><tspan x="906.7" font-style="italic">acc</tspan><tspan x="972.2">=</tspan><tspan x="1007.5">0.84</tspan></text>
<text x="915.8" y="2201.7" font-size="34.4" text-anchor="middle" fill="#262626" stroke="#262626" stroke-width="0.4">pathologist 2</text>
<text transform="translate(725.4 2032.7) rotate(-90)" font-size="34.8" text-anchor="middle" fill="#262626" stroke="#262626" stroke-width="0.4">Signal detector</text>
<rect x="1258.35" y="1900.85" width="69.45" height="59.7" fill="#7f2704"/>
<text transform="translate(1293.08 1940) scale(1 1.035)" font-size="34.4" text-anchor="middle" fill="#fff" stroke="#fff" stroke-width="0.4">351</text>
<rect x="1336.1" y="1900.85" width="69.45" height="59.7" fill="#fdd3a7"/>
<text transform="translate(1370.83 1940) scale(1 1.035)" font-size="34.4" text-anchor="middle" fill="#262626" stroke="#262626" stroke-width="0.4">58</text>
<rect x="1413.85" y="1900.85" width="69.45" height="59.7" fill="#c94202"/>
<text transform="translate(1448.58 1940) scale(1 1.035)" font-size="34.4" text-anchor="middle" fill="#fff" stroke="#fff" stroke-width="0.4">193</text>
<rect x="1491.6" y="1900.85" width="69.45" height="59.7" fill="#fff5ea"/>
<text transform="translate(1526.33 1940) scale(1 1.035)" font-size="34.4" text-anchor="middle" fill="#262626" stroke="#262626" stroke-width="0.4">1</text>
<rect x="1258.35" y="1968.85" width="69.45" height="59.7" fill="#fff5ea"/>
<text transform="translate(1293.08 2008) scale(1 1.035)" font-size="34.4" text-anchor="middle" fill="#262626" stroke="#262626" stroke-width="0.4">1</text>
<rect x="1336.1" y="1968.85" width="69.45" height="59.7" fill="#fdb170"/>
<text transform="translate(1370.83 2008) scale(1 1.035)" font-size="34.4" text-anchor="middle" fill="#262626" stroke="#262626" stroke-width="0.4">90</text>
<rect x="1413.85" y="1968.85" width="69.45" height="59.7" fill="#fff0e2"/>
<text transform="translate(1448.58 2008) scale(1 1.035)" font-size="34.4" text-anchor="middle" fill="#262626" stroke="#262626" stroke-width="0.4">10</text>
<rect x="1491.6" y="1968.85" width="69.45" height="59.7" fill="#fff2e6"/>
<text transform="translate(1526.33 2008) scale(1 1.035)" font-size="34.4" text-anchor="middle" fill="#262626" stroke="#262626" stroke-width="0.4">6</text>
<rect x="1258.35" y="2036.85" width="69.45" height="59.7" fill="#fff0e2"/>
<text transform="translate(1293.08 2076) scale(1 1.035)" font-size="34.4" text-anchor="middle" fill="#262626" stroke="#262626" stroke-width="0.4">10</text>
<rect x="1336.1" y="2036.85" width="69.45" height="59.7" fill="#fee9d3"/>
<text transform="translate(1370.83 2076) scale(1 1.035)" font-size="34.4" text-anchor="middle" fill="#262626" stroke="#262626" stroke-width="0.4">25</text>
<rect x="1413.85" y="2036.85" width="69.45" height="59.7" fill="#fd9d53"/>
<text transform="translate(1448.58 2076) scale(1 1.035)" font-size="34.4" text-anchor="middle" fill="#262626" stroke="#262626" stroke-width="0.4">108</text>
<rect x="1491.6" y="2036.85" width="69.45" height="59.7" fill="#fff5eb"/>
<text transform="translate(1526.33 2076) scale(1 1.035)" font-size="34.4" text-anchor="middle" fill="#262626" stroke="#262626" stroke-width="0.4">0</text>
<rect x="1258.35" y="2104.85" width="69.45" height="59.7" fill="#fff1e4"/>
<text transform="translate(1293.08 2144) scale(1 1.035)" font-size="34.4" text-anchor="middle" fill="#262626" stroke="#262626" stroke-width="0.4">8</text>
<rect x="1336.1" y="2104.85" width="69.45" height="59.7" fill="#fdb271"/>
<text transform="translate(1370.83 2144) scale(1 1.035)" font-size="34.4" text-anchor="middle" fill="#262626" stroke="#262626" stroke-width="0.4">89</text>
<rect x="1413.85" y="2104.85" width="69.45" height="59.7" fill="#feebd7"/>
<text transform="translate(1448.58 2144) scale(1 1.035)" font-size="34.4" text-anchor="middle" fill="#262626" stroke="#262626" stroke-width="0.4">22</text>
<rect x="1491.6" y="2104.85" width="69.45" height="59.7" fill="#bd3e02"/>
<text transform="translate(1526.33 2144) scale(1 1.035)" font-size="34.4" text-anchor="middle" fill="#fff" stroke="#fff" stroke-width="0.4">201</text>
<text y="1883.4" font-size="35" font-family="'DejaVu Sans', 'Liberation Sans', sans-serif" fill="#262626" stroke="#262626" stroke-width="0.4"><tspan x="1240.3" font-style="italic">κ</tspan><tspan x="1267.5">=</tspan><tspan x="1302.8">0.53,</tspan><tspan x="1400.1" font-style="italic">acc</tspan><tspan x="1465.6">=</tspan><tspan x="1500.9">0.64</tspan></text>
<text x="1409.2" y="2201.7" font-size="34.4" text-anchor="middle" fill="#262626" stroke="#262626" stroke-width="0.4">pathologist 3</text>
<text transform="translate(1218.8 2032.7) rotate(-90)" font-size="34.8" text-anchor="middle" fill="#262626" stroke="#262626" stroke-width="0.4">Signal detector</text>
<text transform="translate(38.3 99) scale(0.853 1)" font-size="69.4" fill="#000" stroke="#000" stroke-width="1.4" stroke-linejoin="round">A</text>
<text transform="translate(1291.1 99) scale(0.862 1)" font-size="69.4" fill="#000" stroke="#000" stroke-width="1.4" stroke-linejoin="round">B</text>
<text transform="translate(32.9 803.6) scale(0.782 1.037)" font-size="69.4" fill="#000" stroke="#000" stroke-width="1.4" stroke-linejoin="round">C</text>
<g fill="none" stroke="#000" stroke-width="5.7" stroke-linejoin="round">
<rect x="2.7" y="2.5" width="1644.9" height="675.8"/>
<rect x="7.7" y="718" width="1638.5" height="1568.7"/>
<path d="M7.7 1303.1H1646.2M7.7 1776.7H1646.2"/>
</g>
</svg>
</body>
</html>
